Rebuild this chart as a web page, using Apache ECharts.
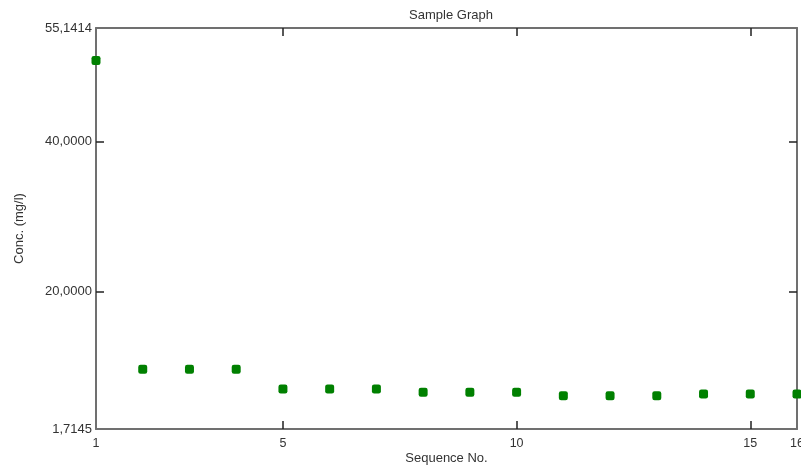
<!DOCTYPE html>
<html>
<head>
<meta charset="utf-8">
<script src="https://cdn.jsdelivr.net/npm/echarts@6/dist/echarts.min.js"></script>
<style>
html,body{margin:0;padding:0;background:#fff;}
#chart{width:801px;height:466px;}
</style>
</head>
<body>
<div id="chart"></div>
<script>
var seqNo = [1, 2, 3, 4, 5, 6, 7, 8, 9, 10, 11, 12, 13, 14, 15, 16];
var conc = [50.8, 9.69, 9.69, 9.69, 7.03, 7.03, 7.03, 6.6, 6.6, 6.6, 6.14, 6.14, 6.14, 6.37, 6.37, 6.37];
var yMin = 1.7145, yMax = 55.1414;
var yLabelValues = [1.7145, 20, 40, 55.1414];
var yTickValues = [20, 40];
var xMin = 1, xMax = 16;
var xLabelValues = [1, 5, 10, 15, 16];
var xTickValues = [5, 10, 15];

function fmtY(v) { return v.toFixed(4).replace('.', ','); }

var font = 'Liberation Sans, Arial, sans-serif';
var lineStyle = { color: '#707070', width: 2 };
var tickStyle = { color: '#222', width: 1.5 };

var chart = echarts.init(document.getElementById('chart'), null, { renderer: 'canvas' });
chart.setOption({
  animation: false,
  backgroundColor: '#fff',
  title: {
    text: 'Sample Graph', left: 446, top: 4, textAlign: 'center',
    textStyle: { fontFamily: font, fontSize: 13, fontWeight: 'normal', color: '#333' }
  },
  grid: { left: 96, right: 4, top: 28, bottom: 37, outerBoundsMode: 'none', containLabel: false },
  xAxis: [{
    type: 'value', min: xMin, max: xMax, position: 'bottom',
    name: 'Sequence No.', nameLocation: 'middle', nameGap: 23, nameMoveOverlap: false,
    nameTextStyle: { fontFamily: font, fontSize: 13, color: '#333' },
    axisLine: { show: true, onZero: false, lineStyle: lineStyle },
    axisTick: { show: true, inside: true, length: 8, customValues: xTickValues, lineStyle: tickStyle },
    axisLabel: { customValues: xLabelValues, fontFamily: font, fontSize: 12.5, color: '#333', margin: 8, showMinLabel: true, showMaxLabel: true },
    splitLine: { show: false }
  }, {
    type: 'value', min: xMin, max: xMax, position: 'top',
    axisLine: { show: true, onZero: false, lineStyle: lineStyle },
    axisTick: { show: true, inside: true, length: 8, customValues: xTickValues, lineStyle: tickStyle },
    axisLabel: { show: false },
    splitLine: { show: false }
  }],
  yAxis: [{
    type: 'value', min: yMin, max: yMax, position: 'left',
    name: 'Conc. (mg/l)', nameLocation: 'middle', nameGap: 70, nameRotate: 90, nameMoveOverlap: false,
    nameTextStyle: { fontFamily: font, fontSize: 13, color: '#333' },
    axisLine: { show: true, onZero: false, lineStyle: lineStyle },
    axisTick: { show: true, inside: true, length: 8, customValues: yTickValues, lineStyle: tickStyle },
    axisLabel: { customValues: yLabelValues, formatter: fmtY, fontFamily: font, fontSize: 13, color: '#333', margin: 4, showMinLabel: true, showMaxLabel: true },
    splitLine: { show: false }
  }, {
    type: 'value', min: yMin, max: yMax, position: 'right',
    axisLine: { show: true, onZero: false, lineStyle: lineStyle },
    axisTick: { show: true, inside: true, length: 8, customValues: yTickValues, lineStyle: tickStyle },
    axisLabel: { show: false },
    splitLine: { show: false }
  }],
  series: [{
    type: 'scatter',
    xAxisIndex: 0, yAxisIndex: 0,
    symbol: 'roundRect', symbolSize: 9,
    itemStyle: { color: '#008000', opacity: 1 },
    data: seqNo.map(function (s, i) { return [s, conc[i]]; })
  }]
});
</script>
</body>
</html>
